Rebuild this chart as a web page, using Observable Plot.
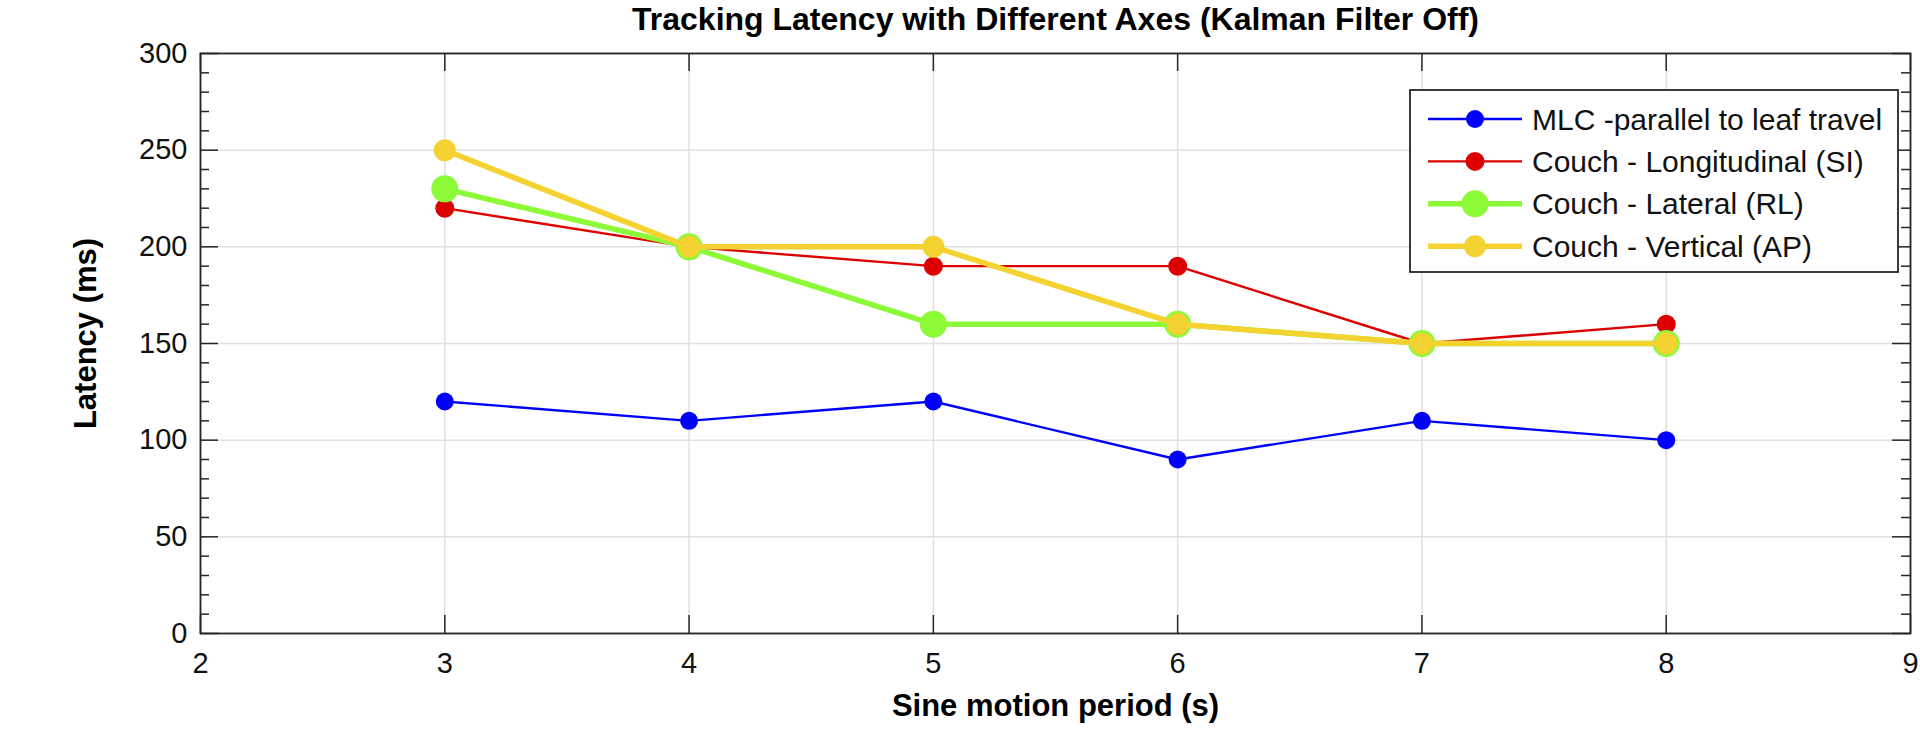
<!DOCTYPE html>
<html><head><meta charset="utf-8">
<script src="https://cdn.jsdelivr.net/npm/d3@7"></script>
<script src="https://cdn.jsdelivr.net/npm/@observablehq/plot@0.6"></script>
<style>body{margin:0;background:#fff;} svg{display:block}</style>
</head><body><div id="chart"></div>
<script>
const periods = [3, 4, 5, 6, 7, 8];
const seriesNames = ["MLC -parallel to leaf travel", "Couch - Longitudinal (SI)", "Couch - Lateral (RL)", "Couch - Vertical (AP)"];
const mlc = [120, 110, 120, 90, 110, 100];
const couchSI = [220, 200, 190, 190, 150, 160];
const couchRL = [230, 200, 160, 160, 150, 150];
const couchAP = [250, 200, 200, 160, 150, 150];
const seriesColors = ["#0000ff", "#dd0000", "#8cfa36", "#f4d232"];
const seriesWidths = [2.4, 2.4, 5.5, 5.5];
const seriesRadii = [9, 9.5, 13.5, 11];
const xTicks = [2, 3, 4, 5, 6, 7, 8, 9];
const yTicks = [0, 50, 100, 150, 200, 250, 300];
const yMinorTicks = d3.range(0, 301, 10).filter(v => v % 50 !== 0);
const title = "Tracking Latency with Different Axes (Kalman Filter Off)";
const xLabel = "Sine motion period (s)";
const yLabel = "Latency (ms)";

const W = 1920, H = 733;
const mL = 200, mR = 10, mT = 53, mB = 100;
const plotW = W - mL - mR, plotH = H - mT - mB;
const majorLen = 18, minorLen = 9;
const font = "Liberation Sans, Arial, Helvetica, sans-serif";

const allValues = [mlc, couchSI, couchRL, couchAP];
const rows = seriesNames.flatMap((name, i) => periods.map((p, j) => ({series: name, idx: i, period: p, latency: allValues[i][j]})));

const seriesMarks = seriesNames.flatMap((name, i) => {
  const d = rows.filter(r => r.idx === i);
  return [
    Plot.line(d, {x: "period", y: "latency", stroke: seriesColors[i], strokeWidth: seriesWidths[i], strokeLinejoin: "round"}),
    Plot.dot(d, {x: "period", y: "latency", fill: seriesColors[i], r: seriesRadii[i], stroke: "none"})
  ];
});

const tickStroke = "#262626";
const chart = Plot.plot({
  width: W, height: H,
  marginLeft: mL, marginRight: mR, marginTop: mT, marginBottom: mB,
  style: {fontFamily: font, background: "#fff"},
  x: {domain: [2, 9]},
  y: {domain: [0, 300]},
  marks: [
    Plot.gridX(xTicks, {stroke: "#e0e0e0", strokeOpacity: 1, strokeWidth: 1.5}),
    Plot.gridY(yTicks, {stroke: "#e0e0e0", strokeOpacity: 1, strokeWidth: 1.5}),
    Plot.tickX(xTicks, {x: d => d, insetTop: plotH - majorLen, stroke: tickStroke, strokeWidth: 1.5}),
    Plot.tickX(xTicks, {x: d => d, insetBottom: plotH - majorLen, stroke: tickStroke, strokeWidth: 1.5}),
    Plot.tickY(yTicks, {y: d => d, insetRight: plotW - majorLen, stroke: tickStroke, strokeWidth: 1.5}),
    Plot.tickY(yTicks, {y: d => d, insetLeft: plotW - majorLen, stroke: tickStroke, strokeWidth: 1.5}),
    Plot.tickY(yMinorTicks, {y: d => d, insetRight: plotW - minorLen, stroke: tickStroke, strokeWidth: 1.5}),
    Plot.tickY(yMinorTicks, {y: d => d, insetLeft: plotW - minorLen, stroke: tickStroke, strokeWidth: 1.5}),
    Plot.frame({stroke: tickStroke, strokeWidth: 1.8}),
    Plot.axisX({ticks: xTicks, tickFormat: d3.format("d"), tickSize: 0, tickPadding: 19, fontSize: 29, label: null, fill: "#111"}),
    Plot.axisY({ticks: yTicks, tickFormat: d3.format("d"), tickSize: 0, tickPadding: 13, fontSize: 29, label: null, fill: "#111"}),
    ...seriesMarks,
    Plot.text([title], {frameAnchor: "top", dy: -46, fontSize: 32, fontWeight: "bold", fill: "#000"}),
    Plot.text([xLabel], {frameAnchor: "bottom", dy: 82, fontSize: 31, fontWeight: "bold", fill: "#000"}),
    Plot.text([yLabel], {frameAnchor: "left", textAnchor: "middle", dx: -114, dy: -10, rotate: -90, fontSize: 31, fontWeight: "bold", fill: "#000"})
  ]
});

// Legend
const svg = d3.select(chart);
const lg = svg.append("g").attr("font-family", font).attr("text-anchor", "start");
const boxX = 1410, boxY = 90, boxW = 488, boxH = 182;
lg.append("rect").attr("x", boxX).attr("y", boxY).attr("width", boxW).attr("height", boxH)
  .attr("fill", "#fff").attr("stroke", "#262626").attr("stroke-width", 1.8);
const rowY0 = 119, rowStep = 42.4;
seriesNames.forEach((name, i) => {
  const y = rowY0 + i * rowStep;
  lg.append("line").attr("x1", 1428).attr("x2", 1522).attr("y1", y).attr("y2", y)
    .attr("stroke", seriesColors[i]).attr("stroke-width", seriesWidths[i]);
  lg.append("circle").attr("cx", 1475).attr("cy", y).attr("r", seriesRadii[i]).attr("fill", seriesColors[i]);
  lg.append("text").attr("x", 1532).attr("y", y).attr("dy", "0.35em").attr("text-anchor", "start")
    .attr("font-size", 30).attr("fill", "#111").text(name);
});

document.getElementById("chart").appendChild(chart);
</script>
</body></html>
